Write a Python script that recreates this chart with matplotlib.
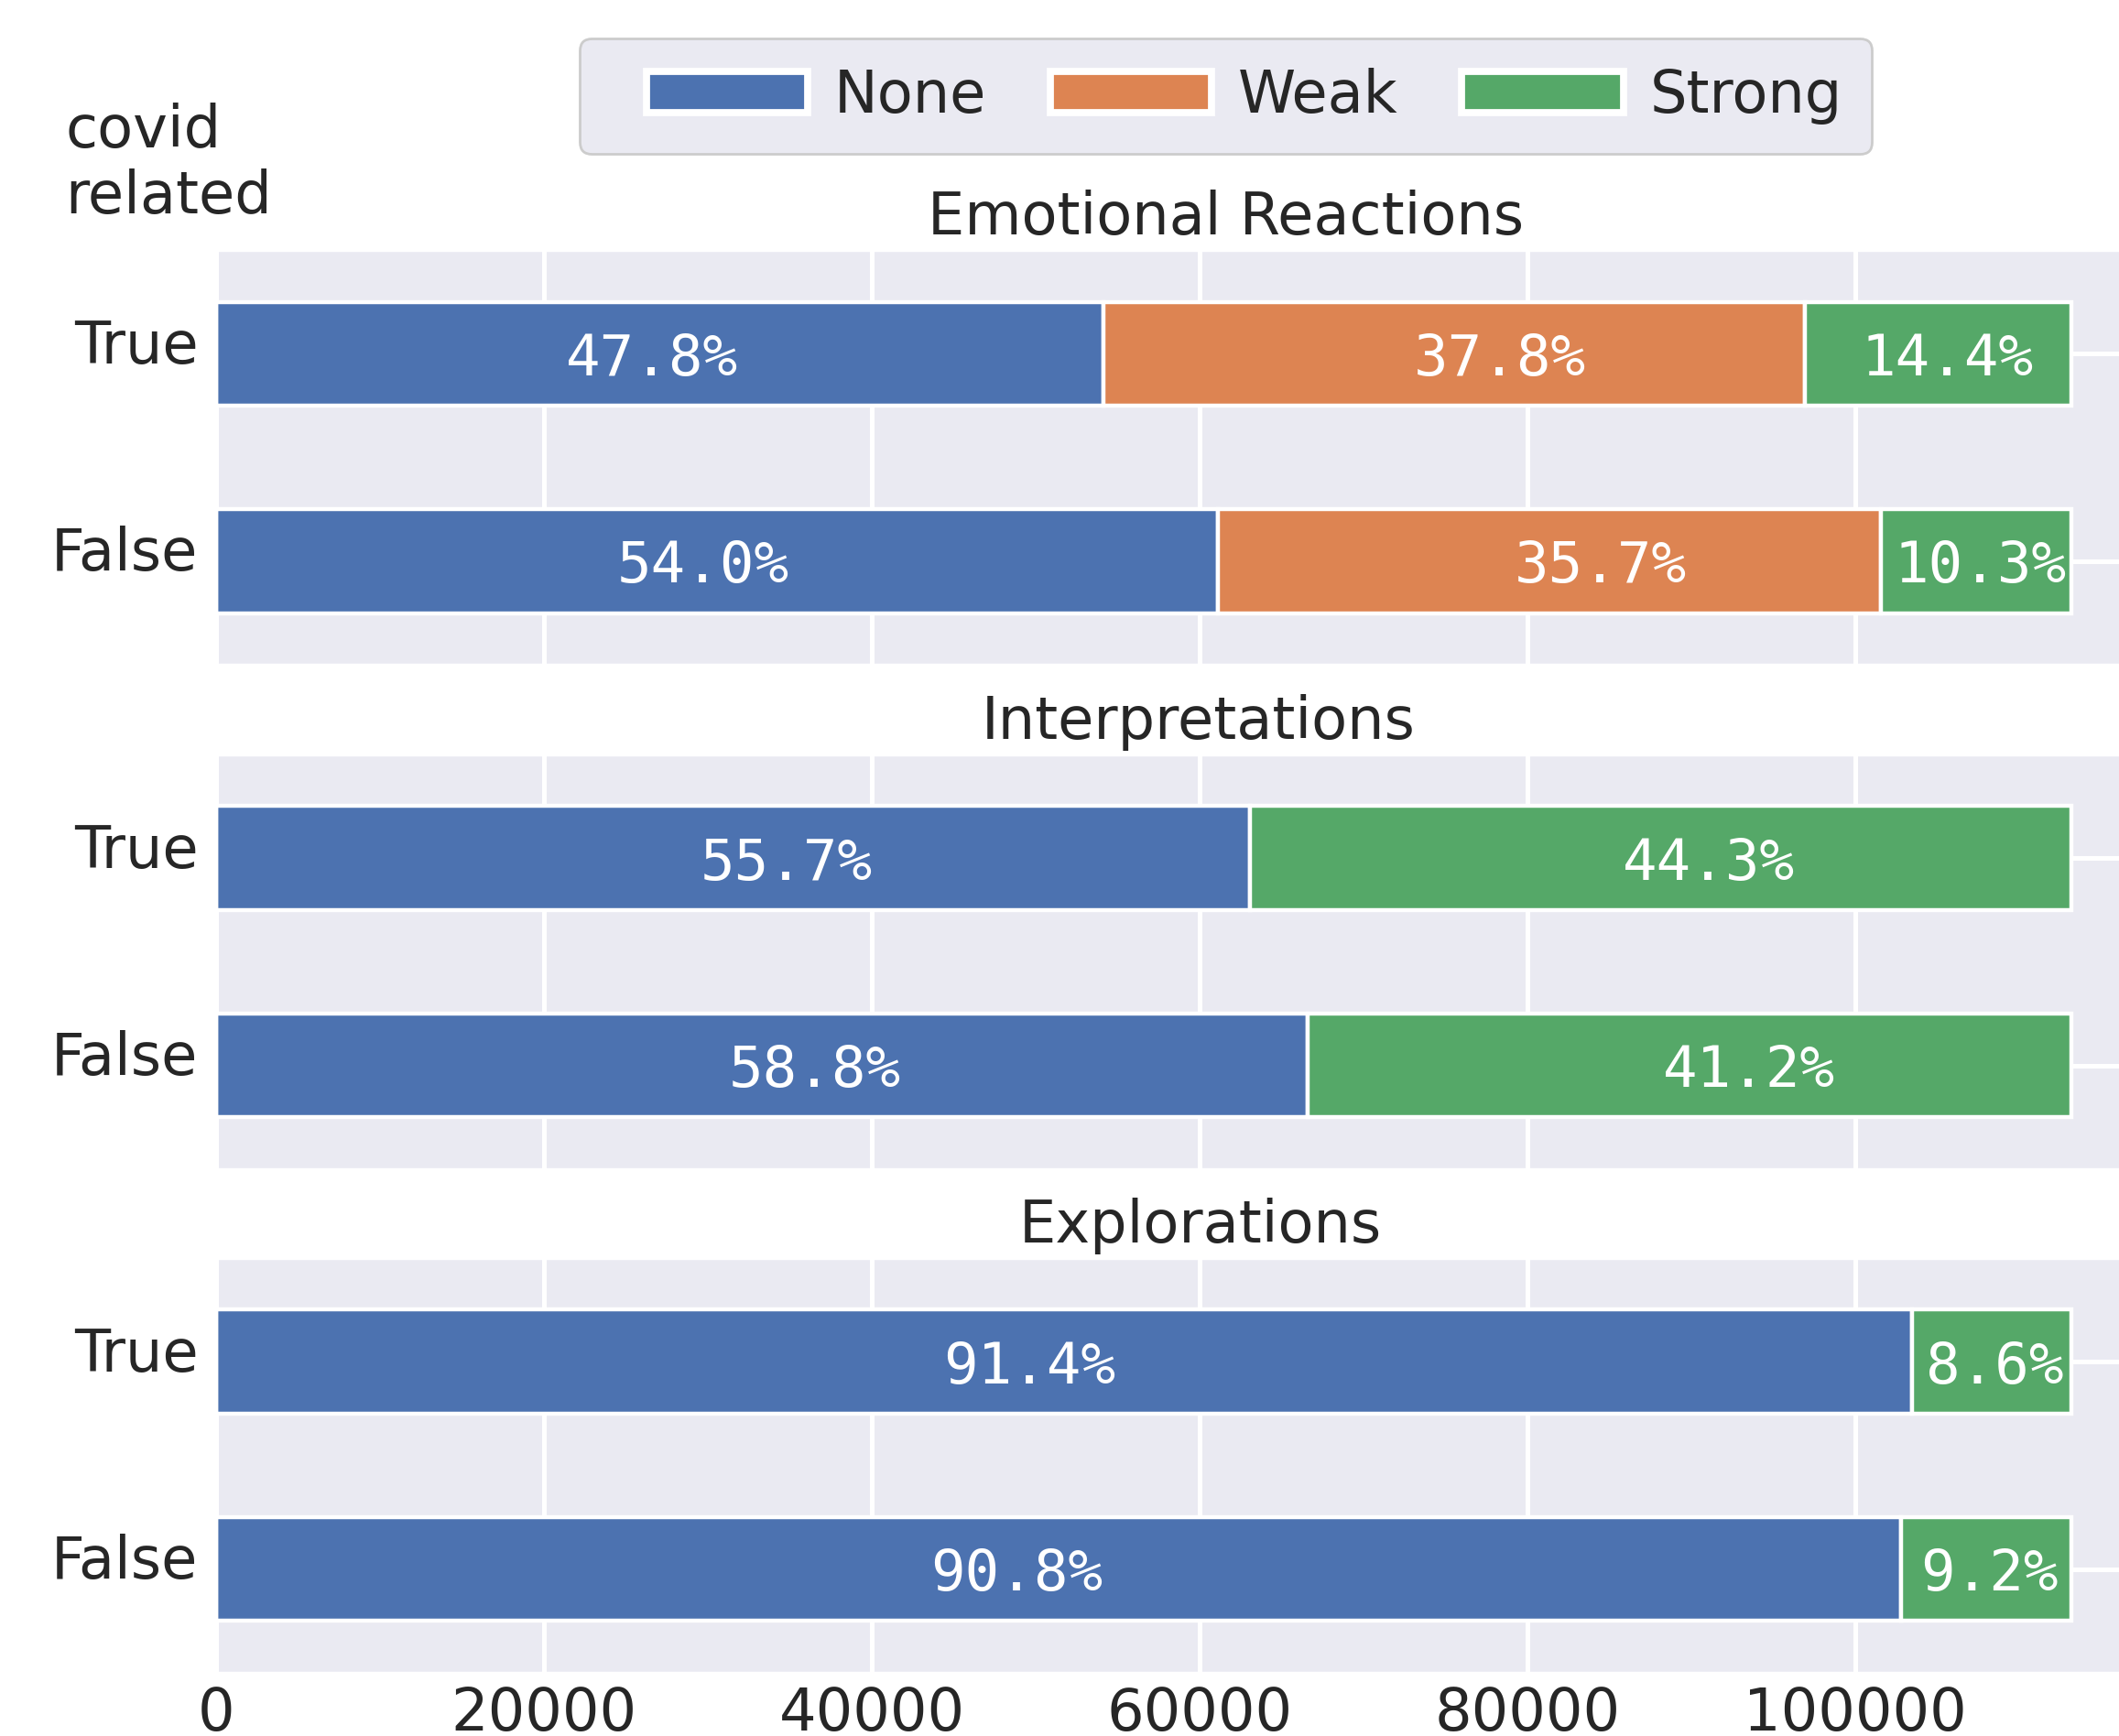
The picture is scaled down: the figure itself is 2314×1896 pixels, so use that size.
import matplotlib
matplotlib.use('Agg')
import matplotlib.pyplot as plt
import matplotlib.transforms as mtransforms
from matplotlib.legend_handler import HandlerPatch
import seaborn as sns

sns.set_theme(style='darkgrid')
plt.rcParams['font.family'] = ['DejaVu Sans']
plt.rcParams['grid.linewidth'] = 1.8

panels = ['Emotional Reactions', 'Interpretations', 'Explorations']
rows = ['False', 'True']
levels = ['None', 'Weak', 'Strong']
colors = ['#4C72B0', '#DD8452', '#55A868']

# percent of each level per row (False, True) for every panel
none_pct = [[54.0, 47.8], [58.8, 55.7], [90.8, 91.4]]
weak_pct = [[35.7, 37.8], [0.0, 0.0], [0.0, 0.0]]
strong_pct = [[10.3, 14.4], [41.2, 44.3], [9.2, 8.6]]
# every bar is stretched to the number of posts
row_total = 113200

# small horizontal nudges (points) of the percent labels, as placed in the original
nudge = [
    {'None': [-5.5, -3], 'Weak': [20, 18], 'Strong': [1.5, 3.5]},
    {'None': [21, 21], 'Strong': [23.5, 19]},
    {'None': [-16.5, -13.5], 'Strong': [1, 1]},
]
title_x = [0.518, 0.504, 0.505]

fig = plt.figure(figsize=(11.57, 9.48), dpi=200)

bottoms = [0.617, 0.3265, 0.0364]
axes = []
for k, name in enumerate(panels):
    ax = fig.add_axes([0.102, bottoms[k], 0.9195, 0.239])
    axes.append(ax)
    ypos = list(range(len(rows)))
    left = [0.0] * len(rows)
    for lvl, col, pct in zip(levels, colors, [none_pct[k], weak_pct[k], strong_pct[k]]):
        if max(pct) == 0:
            continue
        widths = [p * row_total / 100 for p in pct]
        ax.barh(ypos, widths, left=left, height=0.5, color=col,
                edgecolor='white', linewidth=1.6, label=lvl)
        for y, w, l, p, dx in zip(ypos, widths, left, pct, nudge[k][lvl]):
            ax.annotate(f'{p:.1f}%', xy=(l + w / 2, y), xytext=(dx, 0),
                        textcoords='offset points', ha='center', va='center_baseline',
                        color='white', family='DejaVu Sans Mono', fontsize=22.5)
        left = [a + b for a, b in zip(left, widths)]
    ax.set_ylim(-0.5, 1.5)
    ax.set_yticks(ypos)
    ax.set_yticklabels(rows)
    ax.set_xticks([0, 20000, 40000, 60000, 80000, 100000])
    ax.tick_params(axis='y', labelsize=23, pad=7, length=0)
    ax.tick_params(axis='x', labelsize=23, pad=5, length=0)
    ax.set_title(name, fontsize=23, pad=6, x=title_x[k])
    if k < 2:
        ax.tick_params(axis='x', labelbottom=False)
    # the row names sit a little above the bar centres
    lift = mtransforms.ScaledTranslation(0, 5 / 72, fig.dpi_scale_trans)
    for lab in ax.get_yticklabels():
        lab.set_transform(lab.get_transform() + lift)

containers, labels = axes[0].get_legend_handles_labels()
handles = [c.patches[0] for c in containers]
leg = fig.legend(handles, labels, loc='center', bbox_to_anchor=(0.5784, 0.9446), ncol=3,
                 fontsize=23, handlelength=3.4, handleheight=0.7, handletextpad=0.45,
                 columnspacing=0.45, borderpad=0.5,
                 handler_map={h: HandlerPatch(xpad=0.64) for h in handles},
                 facecolor='#EAEAF2', edgecolor='0.8', framealpha=1)
for h in leg.legend_handles:
    h.set_linewidth(2.8)

fig.text(0.031, 0.941, 'covid\nrelated', ha='left', va='top', fontsize=23)

fig.savefig('out.png', dpi=200)
